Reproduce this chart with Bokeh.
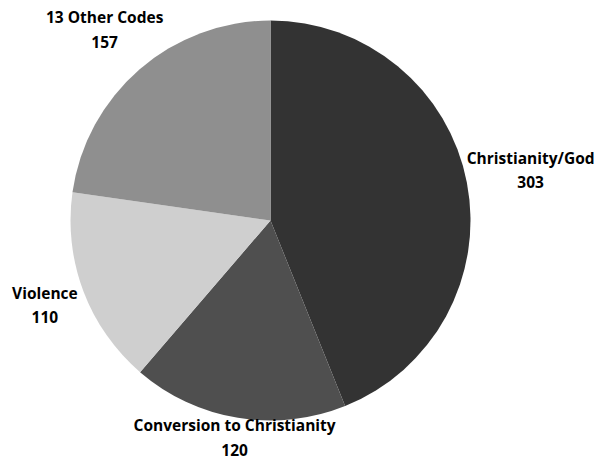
import math
from bokeh.plotting import figure
from bokeh.models import Range1d, ColumnDataSource
from bokeh.core.properties import value
from bokeh.embed import file_html
from bokeh.resources import INLINE

categories = ["Christianity/God", "Conversion to Christianity", "Violence", "13 Other Codes"]
counts = [303, 120, 110, 157]
colors = ["#333333", "#4f4f4f", "#cfcfcf", "#8f8f8f"]

W, H = 603, 464
cx, cy, R = 270, H - 220, 200
label_r = [265, 220, 241, 253]

total = sum(counts)
starts, ends, mids = [], [], []
cum = 0
for c in counts:
    a0 = math.pi / 2 - cum / total * 2 * math.pi
    cum += c
    a1 = math.pi / 2 - cum / total * 2 * math.pi
    starts.append(a0)
    ends.append(a1)
    mids.append((a0 + a1) / 2)

src = ColumnDataSource(dict(start=starts, end=ends, color=colors))

p = figure(width=W, height=H, output_backend="svg", toolbar_location=None,
           x_range=Range1d(0, W), y_range=Range1d(0, H), min_border=0)
p.axis.visible = False
p.grid.visible = False
p.outline_line_color = None
p.background_fill_color = "white"
p.border_fill_color = "white"

p.wedge(x=cx, y=cy, radius=R, start_angle="start", end_angle="end",
        direction="clock", fill_color="color", line_color=None, source=src)

lx = [cx + r * math.cos(m) for r, m in zip(label_r, mids)]
ly = [cy + r * math.sin(m) for r, m in zip(label_r, mids)]
texts = [f"{n}\n{c}" for n, c in zip(categories, counts)]
p.text(x=lx, y=ly, text=texts, text_align="center", text_baseline="middle",
       text_font=value("Open Sans"), text_font_style="bold", text_font_size="15.5px",
       text_color="#000000", text_line_height=1.1)

open("out.html", "w").write(file_html(p, INLINE))
